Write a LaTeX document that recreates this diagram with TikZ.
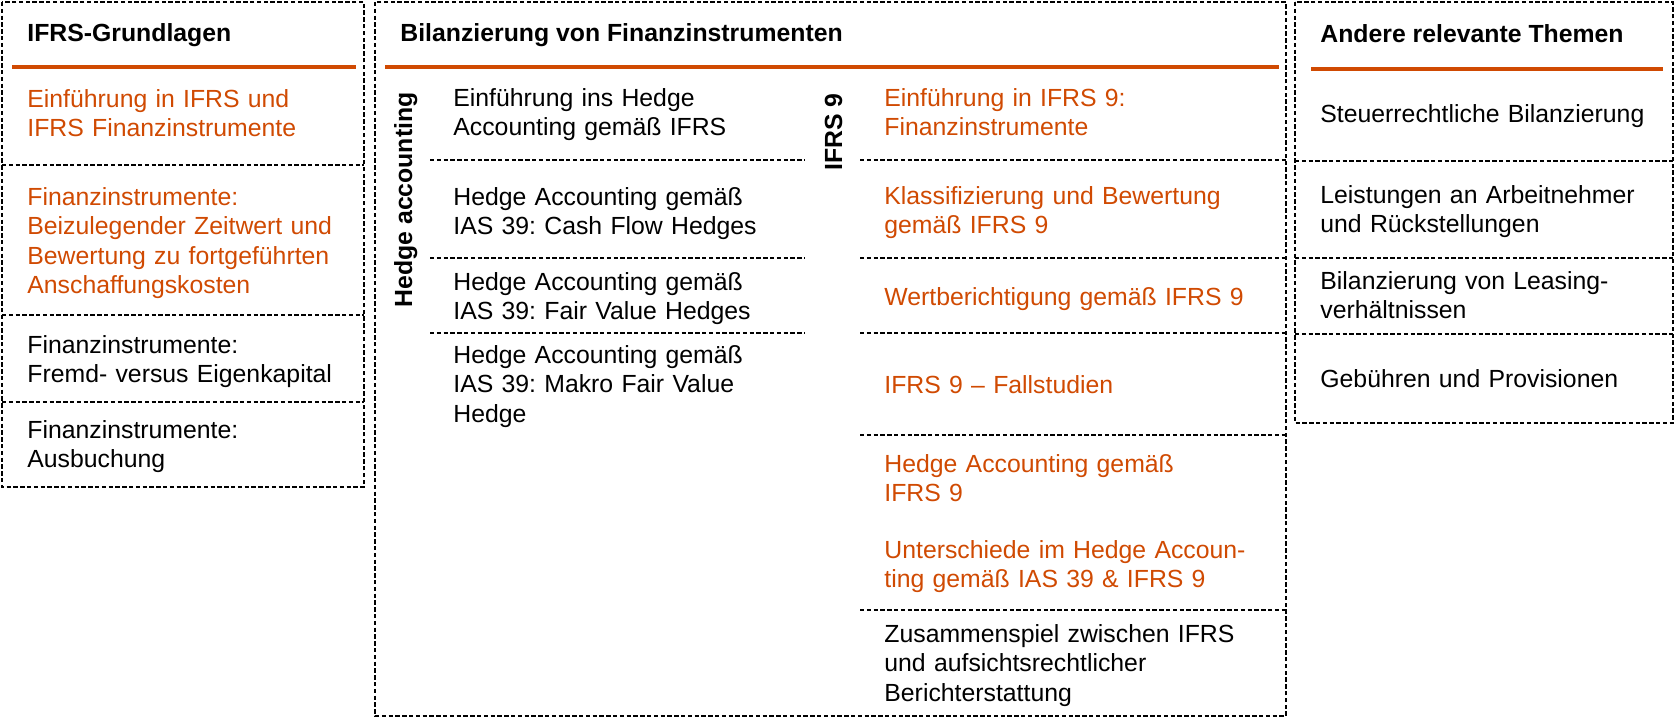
\documentclass[tikz,border=0pt]{standalone}
\usepackage{fontspec}
\setmainfont{Liberation Sans}
\usepackage{xcolor}
\frenchspacing
\definecolor{pwcorange}{RGB}{208,74,2}
\tikzstyle{topic}=[
        anchor = base west,
        inner sep = 0pt,
        text width = 200pt,
        align = left,
        font = \fontsize{12.4}{14.75}\selectfont
    ]
\tikzstyle{hot topic}=[
    topic,
    text = pwcorange
]
\tikzstyle{title}=[
    anchor = base west,
    inner sep = 0pt,
    font = \bfseries\fontsize{12.4}{14.75}\selectfont
]
\tikzstyle{frame}=[
    draw = black,
    line width = 0.75pt,
    dash pattern = on 2.2pt off 1.2pt
]
\tikzstyle{bar}=[
    draw = pwcorange,
    line width = 2pt
]

\begin{document}
\begin{tikzpicture}[x=0.5pt, y=-0.5pt]
        \useasboundingbox (0,0) rectangle (1676,724);

        \draw[frame] (2,2) rectangle (364,487);
        \draw[frame] (375,2) rectangle (1286,716);
        \draw[frame] (1295,2) rectangle (1673,423);

        \draw[bar] (12,67) -- (356,67);
        \draw[bar] (385,67) -- (1279,67);
        \draw[bar] (1311,69) -- (1663,69);

        \draw[frame] (2,165) -- (364,165);
        \draw[frame] (2,315) -- (364,315);
        \draw[frame] (2,402) -- (364,402);
        \draw[frame] (430,160) -- (805,160);
        \draw[frame] (430,258) -- (805,258);
        \draw[frame] (430,333) -- (805,333);
        \draw[frame] (860,160) -- (1286,160);
        \draw[frame] (860,258) -- (1286,258);
        \draw[frame] (860,333) -- (1286,333);
        \draw[frame] (860,435) -- (1286,435);
        \draw[frame] (860,610) -- (1286,610);
        \draw[frame] (1295,161) -- (1673,161);
        \draw[frame] (1295,258) -- (1673,258);
        \draw[frame] (1295,334) -- (1673,334);

        \node[title] (t1) at (27,41) {IFRS-Grundlagen};
        \node[title] (t2) at (400,41) {Bilanzierung von Finanzinstrumenten};
        \node[title] (t3) at (1320,42) {Andere relevante Themen};
        \node[title, rotate=90, anchor=base east] (ha) at (412,92) {Hedge accounting};
        \node[title, rotate=90, anchor=base east] (i9) at (842,93) {IFRS 9};

        \node[hot topic] (g1) at (27,107) {Einführung in IFRS und\\IFRS Finanzinstrumente};
        \node[hot topic] (g2) at (27,205) {Finanzinstrumente:\\Beizulegender Zeitwert und\\Bewertung zu fortgeführten\\Anschaffungskosten};
        \node[topic] (g3) at (27,353) {Finanzinstrumente:\\Fremd- versus Eigenkapital};
        \node[topic] (g4) at (27,438) {Finanzinstrumente:\\Ausbuchung};

        \node[topic] (h1) at (453,106) {Einführung ins Hedge\\Accounting gemäß IFRS};
        \node[topic] (h2) at (453,205) {Hedge Accounting gemäß\\IAS 39: Cash Flow Hedges};
        \node[topic] (h3) at (453,290) {Hedge Accounting gemäß\\IAS 39: Fair Value Hedges};
        \node[topic] (h4) at (453,363) {Hedge Accounting gemäß\\IAS 39: Makro Fair Value\\Hedge};

        \node[hot topic] (f1) at (884,106) {Einführung in IFRS 9:\\Finanzinstrumente};
        \node[hot topic] (f2) at (884,204) {Klassifizierung und Bewertung\\gemäß IFRS 9};
        \node[hot topic] (f3) at (884,305) {Wertberichtigung gemäß IFRS 9};
        \node[hot topic] (f4) at (884,393) {IFRS 9 – Fallstudien};
        \node[hot topic] (f5) at (884,472) {Hedge Accounting gemäß\\IFRS 9};
        \node[hot topic] (f6) at (884,558) {Unterschiede im Hedge Accoun-\\ting gemäß IAS 39 \& IFRS 9};
        \node[topic] (f7) at (884,642) {Zusammenspiel zwischen IFRS\\und aufsichtsrechtlicher\\Berichterstattung};

        \node[topic] (a1) at (1320,122) {Steuerrechtliche Bilanzierung};
        \node[topic] (a2) at (1320,203) {Leistungen an Arbeitnehmer\\und Rückstellungen};
        \node[topic] (a3) at (1320,289) {Bilanzierung von Leasing-\\verhältnissen};
        \node[topic] (a4) at (1320,387) {Gebühren und Provisionen};

    \end{tikzpicture}
\end{document}
